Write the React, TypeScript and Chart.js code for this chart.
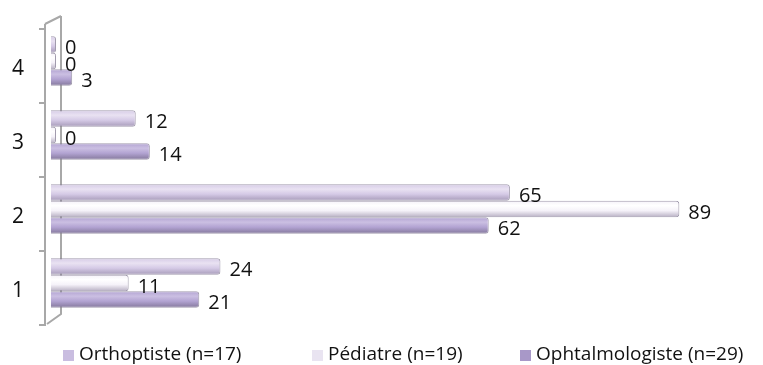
import React, { useEffect, useRef } from "react";
import { Chart, registerables } from "chart.js";

Chart.register(...registerables);

const categories = ["4", "3", "2", "1"];
const orthoptiste = [0, 12, 65, 24];
const pediatre = [0, 0, 89, 11];
const ophtalmologiste = [3, 14, 62, 21];
const seriesNames = ["Orthoptiste (n=17)", "Pédiatre (n=19)", "Ophtalmologiste (n=29)"];

const CAT_PCT = 0.67;
const FONT = "'Open Sans', 'DejaVu Sans', sans-serif";

const gradStops = [
  ["#e9e2f2", "#d5cae6", "#a69ab8"],
  ["#ffffff", "#f5f2f9", "#b6aec2"],
  ["#cbbfe2", "#b2a3d2", "#83779a"],
];
const legendColors = ["#c9bde0", "#e9e4f1", "#a898c8"];
const legendBoxX = [63, 312, 520];

function barGradient(ctx: any) {
  const chart = ctx.chart;
  const ys = chart.scales && chart.scales.y;
  const stops = gradStops[ctx.datasetIndex];
  if (!ys || ys.bottom == null || ctx.dataIndex == null) return stops[1];
  const band = (ys.bottom - ys.top) / categories.length;
  const center = ys.getPixelForValue(ctx.dataIndex);
  const thick = (band * CAT_PCT) / 3;
  const top = center - (band * CAT_PCT) / 2 + thick * ctx.datasetIndex;
  if (!isFinite(top)) return stops[1];
  const g = chart.ctx.createLinearGradient(0, top, 0, top + thick);
  g.addColorStop(0, stops[1]);
  g.addColorStop(0.3, stops[0]);
  g.addColorStop(0.6, stops[1]);
  g.addColorStop(1, stops[2]);
  return g;
}

const framePlugin = {
  id: "frame3d",
  beforeDatasetsDraw(chart: any) {
    const { ctx, chartArea } = chart;
    const { left, top, bottom } = chartArea;
    const band = (bottom - top) / categories.length;
    const fx = left - 6;
    const bx = left + 10;
    ctx.save();
    ctx.strokeStyle = "#a8a8a8";
    ctx.lineWidth = 2;
    ctx.beginPath();
    ctx.moveTo(bx, top - 8);
    ctx.lineTo(bx, bottom - 6);
    ctx.lineTo(fx + 2, bottom + 4);
    ctx.moveTo(fx, top);
    ctx.lineTo(bx, top - 8);
    ctx.moveTo(fx, top);
    ctx.lineTo(fx, bottom + 6);
    for (let i = 0; i <= categories.length; i++) {
      const y = top + 5 + i * band;
      ctx.moveTo(fx - 6, y);
      ctx.lineTo(fx, y);
    }
    ctx.stroke();
    ctx.restore();
  },
};

const valueLabelPlugin = {
  id: "valueLabels",
  afterDatasetsDraw(chart: any) {
    const { ctx } = chart;
    ctx.save();
    ctx.font = `20px ${FONT}`;
    ctx.fillStyle = "#111";
    ctx.textAlign = "left";
    ctx.textBaseline = "middle";
    chart.data.datasets.forEach((ds: any, di: number) => {
      const meta = chart.getDatasetMeta(di);
      meta.data.forEach((el: any, i: number) => {
        ctx.fillText(String(ds.data[i]), el.x + 9, el.y + 4);
      });
    });
    ctx.restore();
  },
};

const legendPlugin = {
  id: "bottomLegend",
  afterDraw(chart: any) {
    const { ctx, height } = chart;
    const y = height - 10;
    ctx.save();
    ctx.font = `19px ${FONT}`;
    ctx.textAlign = "left";
    ctx.textBaseline = "middle";
    chart.data.datasets.forEach((ds: any, i: number) => {
      const x = legendBoxX[i];
      ctx.fillStyle = legendColors[i];
      ctx.fillRect(x, y - 5, 11, 11);
      ctx.fillStyle = "#111";
      ctx.fillText(ds.label, x + 16, y);
    });
    ctx.restore();
  },
};

export default function App() {
  const ref = useRef<HTMLCanvasElement | null>(null);
  useEffect(() => {
    document.body.style.margin = "0";
    const datasetsRaw = [orthoptiste, pediatre, ophtalmologiste];
    const chart = new Chart(ref.current as HTMLCanvasElement, {
      type: "bar",
      data: {
        labels: categories,
        datasets: datasetsRaw.map((d, i) => ({
          label: seriesNames[i],
          data: d,
          backgroundColor: barGradient as any,
          borderColor: "rgba(130,122,145,0.75)",
          borderWidth: 1,
          borderRadius: 3,
          borderSkipped: "start" as any,
          minBarLength: 5,
          categoryPercentage: CAT_PCT,
          barPercentage: 1,
        })),
      },
      options: {
        indexAxis: "y",
        responsive: false,
        animation: false,
        layout: { padding: { top: 24, right: 6, bottom: 45, left: 0 } },
        scales: {
          x: { display: false, min: 0, max: 100 },
          y: {
            grid: { display: false },
            border: { display: false },
            afterFit(scale: any) {
              scale.width = 51;
              scale.paddingTop = 0;
              scale.paddingBottom = 0;
            },
            ticks: {
              padding: 19,
              labelOffset: 8,
              color: "#111",
              font: { size: 21, family: FONT },
            },
          },
        },
        plugins: {
          tooltip: { enabled: false },
          legend: { display: false },
        },
      },
      plugins: [framePlugin, valueLabelPlugin, legendPlugin],
    });
    return () => chart.destroy();
  }, []);
  return <canvas ref={ref} width={763} height={365} style={{ display: "block" }} />;
}
